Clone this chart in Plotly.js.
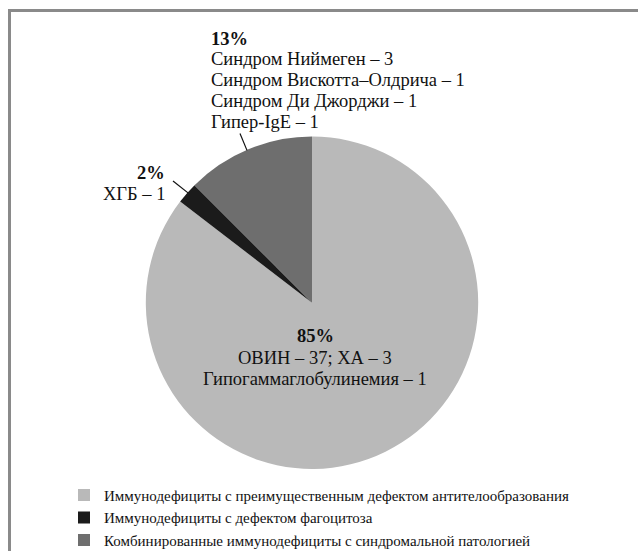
<!DOCTYPE html>
<html>
<head>
<meta charset="utf-8">
<script src="https://cdn.plot.ly/plotly-3.0.1.min.js"></script>
<style>
  html, body { margin: 0; padding: 0; background: #ffffff; }
  #chart { width: 638px; height: 557px; }
</style>
</head>
<body>
<div id="chart"></div>
<script>
// ---- data ----
const categories = [
  "Иммунодефициты с преимущественным дефектом антителообразования",
  "Иммунодефициты с дефектом фагоцитоза",
  "Комбинированные иммунодефициты с синдромальной патологией"
];
const counts = [41, 1, 6];
const detailLines = [
  ["ОВИН – 37; ХА – 3", "Гипогаммаглобулинемия – 1"],
  ["ХГБ – 1"],
  ["Синдром Ниймеген – 3", "Синдром Вискотта–Олдрича – 1", "Синдром Ди Джорджи – 1", "Гипер-IgE – 1"]
];
const sliceColors = ["#b9b9b9", "#1b1b1b", "#6e6e6e"];

// ---- layout helpers (pixel -> paper) ----
const W = 638, H = 557;
const px = x => x / W;
const py = y => 1 - y / H;
const FONT = "Liberation Serif, Times New Roman, serif";
const total = counts.reduce((a, b) => a + b, 0);
const pct = counts.map(v => Math.round(v / total * 100) + "%");

// label placement: [x, xanchor, first line centre y, line step]
const labelPos = [
  { x: 315, anchor: "center", y0: 340, step: 21.5 },
  { x: 167, anchor: "right", y0: 175, step: 21 },
  { x: 209, anchor: "left", y0: 39, step: 21 }
];

const annotations = [];
labelPos.forEach((p, i) => {
  const lines = ["<b>" + pct[i] + "</b>"].concat(detailLines[i]);
  lines.forEach((t, k) => {
    annotations.push({
      xref: "paper", yref: "paper",
      x: px(p.x), y: py(p.y0 + k * p.step),
      xanchor: p.anchor, yanchor: "middle",
      text: t, showarrow: false,
      font: { family: FONT, size: 18.5, color: "#111111" }
    });
  });
});

const shapes = [
  // frame (top and left edges)
  { type: "path", xref: "paper", yref: "paper",
    path: `M ${px(9.5)} ${py(H)} L ${px(9.5)} ${py(10.5)} L ${px(W)} ${py(10.5)}`,
    line: { color: "#8a8a8a", width: 3 } },
  // leader lines
  { type: "line", xref: "paper", yref: "paper",
    x0: px(240), y0: py(135), x1: px(247), y1: py(152),
    line: { color: "#111111", width: 1.2 } },
  { type: "line", xref: "paper", yref: "paper",
    x0: px(173), y0: py(183), x1: px(188), y1: py(195),
    line: { color: "#111111", width: 1.2 } }
];

const trace = {
  type: "pie",
  labels: categories,
  values: counts,
  sort: false,
  direction: "clockwise",
  rotation: 0,
  textinfo: "none",
  hoverinfo: "skip",
  marker: { colors: sliceColors, line: { width: 0 } },
  domain: { x: [px(144), px(480)], y: [py(474), py(138)] }
};

const layout = {
  width: W, height: H,
  margin: { l: 0, r: 0, t: 0, b: 0 },
  paper_bgcolor: "#ffffff",
  showlegend: true,
  legend: {
    x: px(64), y: py(484), xanchor: "left", yanchor: "top",
    orientation: "v",
    font: { family: FONT, size: 15, color: "#111111" },
    bgcolor: "rgba(0,0,0,0)",
    traceorder: "normal"
  },
  annotations: annotations,
  shapes: shapes
};

Plotly.newPlot("chart", [trace], layout, { staticPlot: true, displayModeBar: false });
</script>
</body>
</html>
